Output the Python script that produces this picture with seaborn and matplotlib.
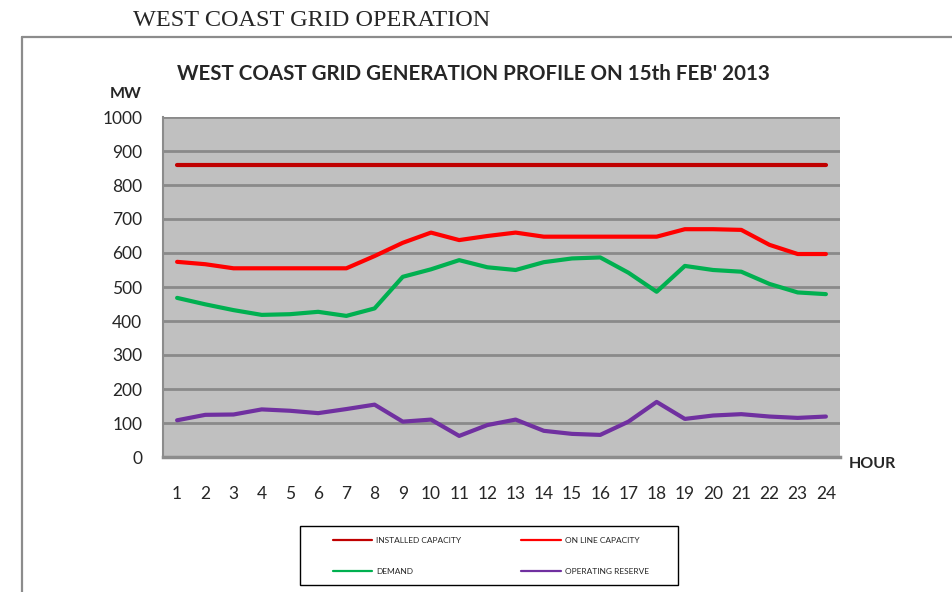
import matplotlib
matplotlib.use("Agg")
import matplotlib.pyplot as plt
import seaborn as sns
import pandas as pd
from matplotlib.patches import Rectangle
from matplotlib.lines import Line2D

hours = list(range(1, 25))
installed = [860] * 24
online = [574, 567, 555, 555, 555, 555, 555, 591, 630, 660, 638, 650,
          660, 648, 648, 648, 648, 648, 670, 670, 668, 624, 597, 597]
demand = [468, 449, 432, 418, 420, 427, 415, 437, 530, 552, 579, 558,
          550, 573, 584, 587, 542, 486, 562, 550, 545, 509, 484, 479]
reserve = [108, 124, 125, 140, 136, 129, 141, 154, 104, 110, 62, 94,
           110, 77, 68, 65, 104, 162, 112, 122, 126, 119, 115, 119]
series_names = ["INSTALLED CAPACITY", "ON LINE CAPACITY", "DEMAND", "OPERATING RESERVE"]
series_colors = ["#C00000", "#FF0000", "#00B050", "#7030A0"]
y_ticks = list(range(0, 1001, 100))

df = pd.DataFrame({
    "hour": hours * 4,
    "MW": installed + online + demand + reserve,
    "series": sum([[n] * 24 for n in series_names], []),
})

sns.set_style("white")
plt.rcParams['font.family'] = ['Lato', 'DejaVu Sans']

fig = plt.figure(figsize=(9.52, 5.92), dpi=100)
W, H = 952, 592

# outer border
fig.add_artist(Line2D([22 / W, 22 / W], [0, 1 - 37 / H], color="#8c8c8c", lw=1.6, transform=fig.transFigure))
fig.add_artist(Line2D([22 / W, 1], [1 - 37 / H, 1 - 37 / H], color="#8c8c8c", lw=1.6, transform=fig.transFigure))

fig.text(133 / W, 1 - 21 / H, "WEST COAST GRID OPERATION", family="Liberation Serif",
         fontsize=17.5, va="center", ha="left")

ax = fig.add_axes([163 / W, 1 - 457 / H, (840 - 163) / W, (457 - 117) / H])
ax.set_facecolor("#C0C0C0")

sns.lineplot(data=df, x="hour", y="MW", hue="series", hue_order=series_names,
             palette=dict(zip(series_names, series_colors)), linewidth=3,
             ax=ax, legend=True)
for ln in ax.lines:
    ln.set_solid_capstyle("round")
    ln.set_solid_joinstyle("round")

ax.set_xlim(0.5, 24.5)
ax.set_ylim(0, 1000)
ax.set_yticks(y_ticks)
ax.set_yticklabels([str(v) for v in y_ticks], fontsize=12.5)
ax.set_xticks(hours)
ax.set_xticklabels([str(h) for h in hours], fontsize=12.5)
ax.set_xticks([h + 0.5 for h in range(0, 25)], minor=True)
ax.tick_params(axis="x", which="major", length=0, pad=21)
ax.tick_params(axis="x", which="minor", length=5, width=1.5, color="#8c8c8c", direction="out")
ax.tick_params(axis="y", which="major", length=5, width=1.5, color="#8c8c8c", direction="out", pad=10)
ax.yaxis.grid(True, color="#8a8a8a", lw=2)
ax.set_axisbelow(True)
for s in ["top", "right"]:
    ax.spines[s].set_visible(False)
for s in ["left", "bottom"]:
    ax.spines[s].set_color("#8c8c8c")
    ax.spines[s].set_linewidth(1.5)
ax.spines["bottom"].set_linewidth(2.5)
ax.set_xlabel("")
ax.set_ylabel("")

fig.text(473 / W, 1 - 74 / H, "WEST COAST GRID GENERATION PROFILE ON 15th FEB' 2013",
         fontsize=14.8, fontweight="bold", ha="center", va="center")
fig.text(126 / W, 1 - 94 / H, "MW", fontsize=11.5, fontweight="bold", ha="center", va="center")
fig.text(872 / W, 1 - 464 / H, "HOUR", fontsize=11.5, fontweight="bold", ha="center", va="center")

handles, labels = ax.get_legend_handles_labels()
ax.get_legend().remove()
hmap = dict(zip(labels, handles))
order = ["INSTALLED CAPACITY", "DEMAND", "ON LINE CAPACITY", "OPERATING RESERVE"]
leg_handles = [Line2D([], [], color=hmap[n].get_color(), lw=1.6) for n in order]

fig.add_artist(Rectangle((300 / W, 1 - 585 / H), (678 - 300) / W, (585 - 526) / H,
                         transform=fig.transFigure, fill=False, edgecolor="black", lw=1.0))
leg = fig.legend(leg_handles, order, ncol=2, loc="center left",
                 bbox_to_anchor=(333 / W, 1 - 556 / H), frameon=False,
                 fontsize=6, handlelength=4.7, handletextpad=0.5,
                 columnspacing=7.2, labelspacing=2.85, borderpad=0.0, borderaxespad=0.0)

fig.savefig("out.png", dpi=100)
